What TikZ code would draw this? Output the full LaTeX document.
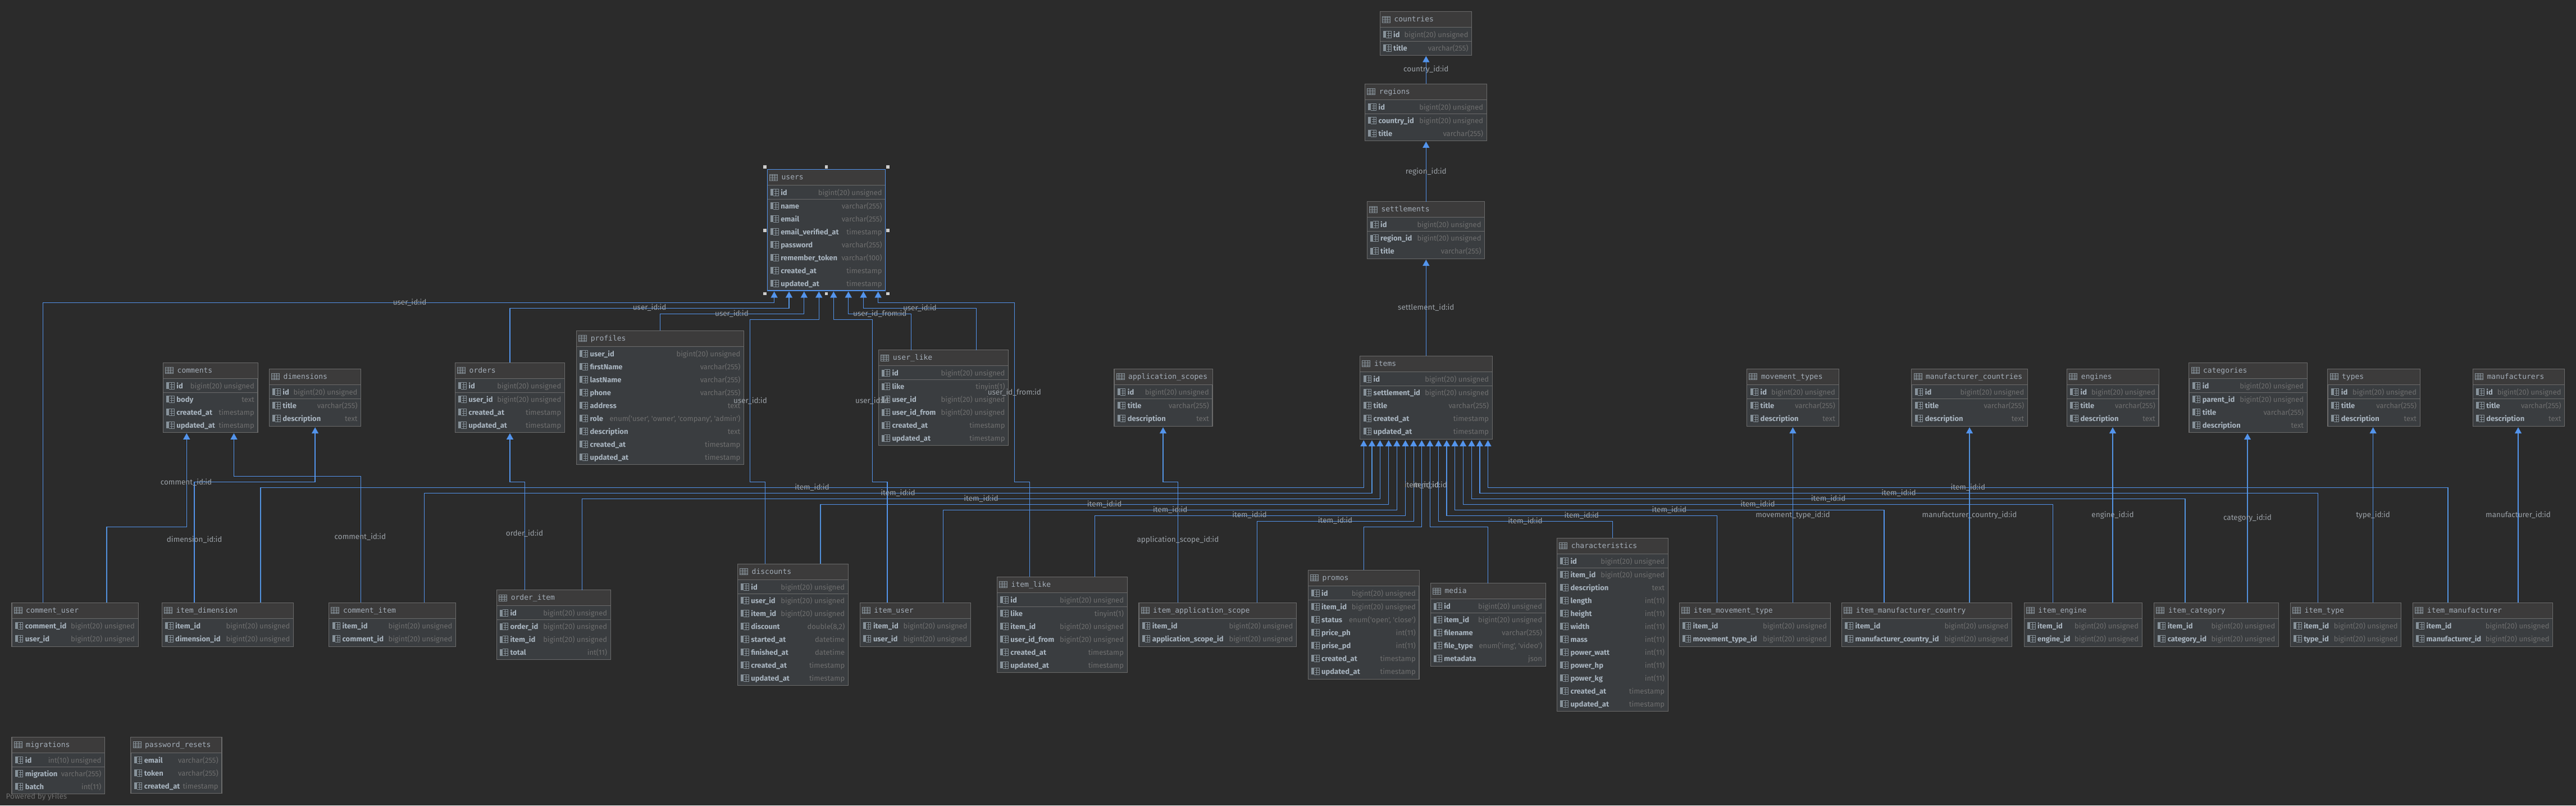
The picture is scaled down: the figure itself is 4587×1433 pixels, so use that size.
\documentclass[tikz,border=0pt]{standalone}
\usepackage{fontspec}
\usetikzlibrary{arrows.meta}
\newfontfamily\fieldfont{Fira Sans}
\newfontfamily\titlefont{DejaVu Sans Mono}
\definecolor{canvas}{HTML}{2B2B2B}
\definecolor{headfill}{HTML}{3C3B3B}
\definecolor{rowfill}{HTML}{3A3D40}
\definecolor{edge}{HTML}{6B6B6B}
\definecolor{titlecol}{HTML}{A4AEB9}
\definecolor{namecol}{HTML}{A9B5C0}
\definecolor{typecol}{HTML}{6F6F6F}
\definecolor{labelcol}{HTML}{9BA1A7}
\definecolor{iconcol}{HTML}{87929A}
\definecolor{linkcol}{HTML}{5394EC}
\tikzset{
  tablebox/.style={draw=edge, fill=rowfill, line width=1.2pt, anchor=north west, inner sep=0pt, outer sep=0pt},
  headband/.style={draw=edge, fill=headfill, line width=1pt},
  pkline/.style={draw=edge, line width=1.2pt},
  tabletitle/.style={anchor=west, inner sep=0pt, text height=10pt, text depth=2pt, text=titlecol, font=\titlefont\fontsize{13}{15}\selectfont},
  fieldname/.style={anchor=west, inner sep=0pt, text height=11pt, text depth=1pt, text=namecol, font=\fieldfont\bfseries\fontsize{13}{15}\selectfont},
  fieldtype/.style={anchor=east, inner sep=0pt, text height=11pt, text depth=1pt, text=typecol, font=\fieldfont\fontsize{13}{15}\selectfont},
  fklabel/.style={inner sep=0pt, text height=11pt, text depth=1.5pt, text=labelcol, font=\fieldfont\fontsize{13.5}{15}\selectfont},
  link/.style={draw=linkcol, line width=1.25pt, shorten >=1.5pt, -{Triangle[length=11pt,width=12pt,fill=linkcol]}},
  handle/.style={fill=white!80!black, minimum size=5.4pt, inner sep=0pt},
  iconline/.style={draw=iconcol, line width=0.8pt},
  tableicon/.pic={
    \draw[iconline] (0,-5.5) rectangle (14,5.5) (0,-2.75) -- (14,-2.75) (0,0) -- (14,0) (0,2.75) -- (14,2.75)
      (4.67,-5.5) -- (4.67,5.5) (9.33,-5.5) -- (9.33,5.5);
  },
  fieldicon/.pic={
    \fill[iconcol] (0,-6) rectangle (5,6);
    \draw[iconline] (5,-6) -- (14,-6) -- (14,6) -- (5,6) (7,-2) -- (14,-2) (7,2) -- (14,2) (9.5,-6) -- (9.5,6);
  }
}
\newcommand{\tbig}{bigint(20) unsigned}
\newcommand{\tvar}{varchar(255)}
\newcommand{\tstamp}{timestamp}
% name, left, top, right, bottom, has id row, fields
\newcommand{\dbtable}[7]{
  \pgfmathsetmacro{\boxw}{#4-#2}
  \pgfmathsetmacro{\boxh}{#5-#3}
  \node[tablebox, minimum width=\boxw pt, minimum height=\boxh pt] (#1) at (#2,#3) {};
  \draw[headband] (#2,#3) rectangle (#4,{#3+28});
  \pic at ({#2+4},{#3+14}) {tableicon};
  \node[tabletitle] (#1-title) at ({#2+25},{#3+14}) {\detokenize{#1}};
  \ifnum#6=1 \draw[pkline] (#2,{#3+53}) -- (#4,{#3+53}); \fi
  \foreach \fname/\ftype [count=\n] in {#7} {
    \pgfmathsetmacro{\rowy}{#3+41+23*(\n-1)+#6*(\n>1?1:0)}
    \pic at ({#2+5.7},\rowy) {fieldicon};
    \node[fieldname] (#1-\n-name) at ({#2+23.7},\rowy) {\fname};
    \node[fieldtype] (#1-\n-type) at ({#4-6},\rowy) {\ftype};
  }
}
\begin{document}
\begin{tikzpicture}[x=1pt, y=-1pt]
  \fill[canvas] (0,0) rectangle (4587,1433);

  % parent tables
  \dbtable{countries}{2457.3}{20.4}{2620.7}{98.2}{1}{id/\tbig, title/\tvar}
  \dbtable{regions}{2430.7}{149.3}{2647.3}{250.4}{1}{id/\tbig, country\_id/\tbig, title/\tvar}
  \dbtable{settlements}{2434.3}{358.6}{2643.7}{460.4}{1}{id/\tbig, region\_id/\tbig, title/\tvar}
  \dbtable{users}{1366.4}{301.4}{1576.8}{517.1}{1}{id/\tbig, name/\tvar, email/\tvar, email\_verified\_at/\tstamp, password/\tvar, remember\_token/varchar(100), created\_at/\tstamp, updated\_at/\tstamp}
  \dbtable{profiles}{1026.7}{588.3}{1324.6}{826.3}{0}{user\_id/\tbig, firstName/\tvar, lastName/\tvar, phone/\tvar, address/text, role/{enum('user', 'owner', 'company', 'admin')}, description/text, created\_at/\tstamp, updated\_at/\tstamp}
  \dbtable{user_like}{1564.6}{622.5}{1795.7}{792.1}{1}{id/\tbig, like/tinyint(1), user\_id/\tbig, user\_id\_from/\tbig, created\_at/\tstamp, updated\_at/\tstamp}
  \dbtable{comments}{290.5}{645.3}{459}{769.3}{1}{id/\tbig, body/text, created\_at/\tstamp, updated\_at/\tstamp}
  \dbtable{dimensions}{479.5}{656.3}{642.7}{758.7}{1}{id/\tbig, title/\tvar, description/text}
  \dbtable{orders}{810.5}{645.3}{1005.5}{769.3}{1}{id/\tbig, user\_id/\tbig, created\_at/\tstamp, updated\_at/\tstamp}
  \dbtable{application_scopes}{1984}{656.3}{2159}{758.7}{1}{id/\tbig, title/\tvar, description/text}
  \dbtable{items}{2421.8}{633.3}{2657.3}{781.7}{1}{id/\tbig, settlement\_id/\tbig, title/\tvar, created\_at/\tstamp, updated\_at/\tstamp}
  \dbtable{movement_types}{3110.8}{656.3}{3274.1}{758.7}{1}{id/\tbig, title/\tvar, description/text}
  \dbtable{manufacturer_countries}{3403.9}{656.3}{3610.5}{758.7}{1}{id/\tbig, title/\tvar, description/text}
  \dbtable{engines}{3680.7}{656.3}{3844}{758.7}{1}{id/\tbig, title/\tvar, description/text}
  \dbtable{categories}{3897.9}{645.3}{4108.3}{769.7}{1}{id/\tbig, parent\_id/\tbig, title/\tvar, description/text}
  \dbtable{types}{4144.9}{656.3}{4309.2}{758.7}{1}{id/\tbig, title/\tvar, description/text}
  \dbtable{manufacturers}{4403.4}{656.3}{4566.8}{758.7}{1}{id/\tbig, title/\tvar, description/text}

  % child tables
  \dbtable{comment_user}{21}{1072.3}{246.2}{1150.3}{0}{comment\_id/\tbig, user\_id/\tbig}
  \dbtable{item_dimension}{288.3}{1072.3}{522.6}{1150.3}{0}{item\_id/\tbig, dimension\_id/\tbig}
  \dbtable{comment_item}{585.8}{1072.3}{811.6}{1150.3}{0}{item\_id/\tbig, comment\_id/\tbig}
  \dbtable{order_item}{884.6}{1049.7}{1087.3}{1173.3}{1}{id/\tbig, order\_id/\tbig, item\_id/\tbig, total/int(11)}
  \dbtable{discounts}{1313.5}{1003.3}{1510.4}{1219.3}{1}{id/\tbig, user\_id/\tbig, item\_id/\tbig, discount/{double(8,2)}, started\_at/datetime, finished\_at/datetime, created\_at/\tstamp, updated\_at/\tstamp}
  \dbtable{item_user}{1531.1}{1072.3}{1728.7}{1150.3}{0}{item\_id/\tbig, user\_id/\tbig}
  \dbtable{item_like}{1775.5}{1026.3}{2007.2}{1196.3}{1}{id/\tbig, like/tinyint(1), item\_id/\tbig, user\_id\_from/\tbig, created\_at/\tstamp, updated\_at/\tstamp}
  \dbtable{item_application_scope}{2028}{1072.3}{2308.6}{1150.3}{0}{item\_id/\tbig, application\_scope\_id/\tbig}
  \dbtable{promos}{2329.3}{1014.3}{2527}{1208.3}{1}{id/\tbig, item\_id/\tbig, status/{enum('open', 'close')}, price\_ph/int(11), prise\_pd/int(11), created\_at/\tstamp, updated\_at/\tstamp}
  \dbtable{media}{2547.4}{1037.7}{2752.2}{1185.3}{1}{id/\tbig, item\_id/\tbig, filename/\tvar, file\_type/{enum('img', 'video')}, metadata/json}
  \dbtable{characteristics}{2772.6}{957.3}{2970.3}{1265.3}{1}{id/\tbig, item\_id/\tbig, description/text, length/int(11), height/int(11), width/int(11), mass/int(11), power\_watt/int(11), power\_hp/int(11), power\_kg/int(11), created\_at/\tstamp, updated\_at/\tstamp}
  \dbtable{item_movement_type}{2990.7}{1072.3}{3259.2}{1150.3}{0}{item\_id/\tbig, movement\_type\_id/\tbig}
  \dbtable{item_manufacturer_country}{3279.6}{1072.3}{3582.5}{1150.3}{0}{item\_id/\tbig, manufacturer\_country\_id/\tbig}
  \dbtable{item_engine}{3604.2}{1072.3}{3814.2}{1150.3}{0}{item\_id/\tbig, engine\_id/\tbig}
  \dbtable{item_category}{3835.8}{1072.3}{4057.5}{1150.3}{0}{item\_id/\tbig, category\_id/\tbig}
  \dbtable{item_type}{4078.3}{1072.3}{4275.8}{1150.3}{0}{item\_id/\tbig, type\_id/\tbig}
  \dbtable{item_manufacturer}{4296.7}{1072.3}{4545.8}{1150.3}{0}{item\_id/\tbig, manufacturer\_id/\tbig}
  \dbtable{migrations}{21}{1311.3}{186.6}{1412.3}{1}{id/int(10) unsigned, migration/\tvar, batch/int(11)}
  \dbtable{password_resets}{232.9}{1311.3}{394.9}{1411.3}{0}{email/\tvar, token/\tvar, created\_at/\tstamp}

  % the selected table
  \draw[draw=linkcol, line width=1.25pt] (users.north west) rectangle (users.south east);
  \node[handle] (handle1) at (1361.8,297.1) {};
  \node[handle] (handle2) at (1471.4,297.1) {};
  \node[handle] (handle3) at (1581,297.1) {};
  \node[handle] (handle4) at (1361.8,410) {};
  \node[handle] (handle5) at (1581,410) {};
  \node[handle] (handle6) at (1361.8,522.5) {};
  \node[handle] (handle7) at (1471.4,522.5) {};
  \node[handle] (handle8) at (1581,522.5) {};

  % links up the location chain
  \draw[link] (2539.3,0 |- regions.north) -- (2539.3,0 |- countries.south);
  \draw[link] (2539.3,0 |- settlements.north) -- (2539.3,0 |- regions.south);
  \draw[link] (2539.3,0 |- items.north) -- (2539.3,0 |- settlements.south);

  % links to users
  \draw[link] (76.5,0 |- comment_user.north) |- (1378.6,538.2) -- (1378.6,0 |- users.south);
  \draw[link] (908,0 |- orders.north) |- (1405,548.2) -- (1405,0 |- users.south);
  \draw[link] (1175.3,0 |- profiles.north) |- (1431.8,558.2) -- (1431.8,0 |- users.south);
  \draw[link] (1362.4,0 |- discounts.north) |- (1335.6,857.3) |- (1458.2,568.2) -- (1458.2,0 |- users.south);
  \draw[link] (1580,0 |- item_user.north) |- (1553.2,857.3) |- (1484.3,568.2) -- (1484.3,0 |- users.south);
  \draw[link] (1622.5,0 |- user_like.north) |- (1510.7,558.2) -- (1510.7,0 |- users.south);
  \draw[link] (1738.2,0 |- user_like.north) |- (1537.5,548.2) -- (1537.5,0 |- users.south);
  \draw[link] (1833.4,0 |- item_like.north) |- (1806.2,857.3) |- (1563.6,538.2) -- (1563.6,0 |- users.south);

  % links to the lookup tables
  \draw[link] (190,0 |- comment_user.north) |- (332.3,937.3) -- (332.3,0 |- comments.south);
  \draw[link] (642.3,0 |- comment_item.north) |- (416.5,847.3) -- (416.5,0 |- comments.south);
  \draw[link] (346,0 |- item_dimension.north) |- (561.1,857.3) -- (561.1,0 |- dimensions.south);
  \draw[link] (934.4,0 |- order_item.north) |- (908,857.3) -- (908,0 |- orders.south);
  \draw[link] (2097.4,0 |- item_application_scope.north) |- (2071,857.3) -- (2071,0 |- application_scopes.south);
  \draw[link] (3192.4,0 |- item_movement_type.north) -- (3192.4,0 |- movement_types.south);
  \draw[link] (3507,0 |- item_manufacturer_country.north) -- (3507,0 |- manufacturer_countries.south);
  \draw[link] (3762,0 |- item_engine.north) -- (3762,0 |- engines.south);
  \draw[link] (4002,0 |- item_category.north) -- (4002,0 |- categories.south);
  \draw[link] (4225.6,0 |- item_type.north) -- (4225.6,0 |- types.south);
  \draw[link] (4484,0 |- item_manufacturer.north) -- (4484,0 |- manufacturers.south);

  % links to items
  \draw[link] (464,0 |- item_dimension.north) |- (2428.3,867.3) -- (2428.3,0 |- items.south);
  \draw[link] (755.8,0 |- comment_item.north) |- (2442.9,877.3) -- (2442.9,0 |- items.south);
  \draw[link] (1036.4,0 |- order_item.north) |- (2457.4,887.3) -- (2457.4,0 |- items.south);
  \draw[link] (1461,0 |- discounts.north) |- (2472.7,897.3) -- (2472.7,0 |- items.south);
  \draw[link] (1679.7,0 |- item_user.north) |- (2487.2,907.3) -- (2487.2,0 |- items.south);
  \draw[link] (1949.7,0 |- item_like.north) |- (2502.5,917.3) -- (2502.5,0 |- items.south);
  \draw[link] (2238.6,0 |- item_application_scope.north) |- (2517.1,927.3) -- (2517.1,0 |- items.south);
  \draw[link] (2428.4,0 |- promos.north) |- (2531.6,937.3) -- (2531.6,0 |- items.south);
  \draw[link] (2649.5,0 |- media.north) |- (2546.2,937.3) -- (2546.2,0 |- items.south);
  \draw[link] (2871.4,0 |- characteristics.north) |- (2561.5,927.3) -- (2561.5,0 |- items.south);
  \draw[link] (3057.5,0 |- item_movement_type.north) |- (2576,917.3) -- (2576,0 |- items.south);
  \draw[link] (3355,0 |- item_manufacturer_country.north) |- (2590.6,907.3) -- (2590.6,0 |- items.south);
  \draw[link] (3655.8,0 |- item_engine.north) |- (2605.1,897.3) -- (2605.1,0 |- items.south);
  \draw[link] (3891,0 |- item_category.north) |- (2620.4,887.3) -- (2620.4,0 |- items.south);
  \draw[link] (4127.2,0 |- item_type.north) |- (2634.9,877.3) -- (2634.9,0 |- items.south);
  \draw[link] (4359,0 |- item_manufacturer.north) |- (2649.5,867.3) -- (2649.5,0 |- items.south);

  % link labels
  \node[fklabel] (lbl_country) at (2539.3,123.2) {country\_id:id};
  \node[fklabel] (lbl_region) at (2539.3,304.3) {region\_id:id};
  \node[fklabel] (lbl_settlement) at (2539.3,546.4) {settlement\_id:id};
  \node[fklabel] (lbl_user1) at (729.6,537.3) {user\_id:id};
  \node[fklabel] (lbl_user2) at (1156.7,547) {user\_id:id};
  \node[fklabel] (lbl_user3) at (1303,558) {user\_id:id};
  \node[fklabel] (lbl_user4) at (1336,712.9) {user\_id:id};
  \node[fklabel] (lbl_user5) at (1553,712.9) {user\_id:id};
  \node[fklabel] (lbl_user6) at (1637.9,547.9) {user\_id:id};
  \node[fklabel] (lbl_from1) at (1566.8,557.9) {user\_id\_from:id};
  \node[fklabel] (lbl_from2) at (1806.4,697.9) {user\_id\_from:id};
  \node[fklabel] (lbl_comment1) at (331.6,858) {comment\_id:id};
  \node[fklabel] (lbl_comment2) at (641.4,954.7) {comment\_id:id};
  \node[fklabel] (lbl_dimension) at (346.2,959.7) {dimension\_id:id};
  \node[fklabel] (lbl_order) at (934,948.7) {order\_id:id};
  \node[fklabel] (lbl_scope) at (2097.4,960) {application\_scope\_id:id};
  \node[fklabel] (lbl_movement) at (3192.4,916) {movement\_type\_id:id};
  \node[fklabel] (lbl_mcountry) at (3507,916) {manufacturer\_country\_id:id};
  \node[fklabel] (lbl_engine) at (3762,916) {engine\_id:id};
  \node[fklabel] (lbl_category) at (4002,921) {category\_id:id};
  \node[fklabel] (lbl_type) at (4225.6,916) {type\_id:id};
  \node[fklabel] (lbl_manufacturer) at (4484,916) {manufacturer\_id:id};
  \node[fklabel] (lbl_item1) at (1446,866.7) {item\_id:id};
  \node[fklabel] (lbl_item2) at (1599,877) {item\_id:id};
  \node[fklabel] (lbl_item3) at (1747,887) {item\_id:id};
  \node[fklabel] (lbl_item4) at (1966.6,896.7) {item\_id:id};
  \node[fklabel] (lbl_item5) at (2083.7,907) {item\_id:id};
  \node[fklabel] (lbl_item6) at (2225,916) {item\_id:id};
  \node[fklabel] (lbl_item7) at (2377.5,926) {item\_id:id};
  \node[fklabel] (lbl_item8) at (2531.6,863) {item\_id:id};
  \node[fklabel] (lbl_item9) at (2546.2,863) {item\_id:id};
  \node[fklabel] (lbl_item10) at (2716,926.7) {item\_id:id};
  \node[fklabel] (lbl_item11) at (2816.3,916.7) {item\_id:id};
  \node[fklabel] (lbl_item12) at (2972.4,906.7) {item\_id:id};
  \node[fklabel] (lbl_item13) at (3130,896.7) {item\_id:id};
  \node[fklabel] (lbl_item14) at (3255.6,886.7) {item\_id:id};
  \node[fklabel] (lbl_item15) at (3381,876.7) {item\_id:id};
  \node[fklabel] (lbl_item16) at (3504.3,866.7) {item\_id:id};

  \node[fklabel, anchor=west, text=typecol] (poweredby) at (10.5,1416.7) {Powered by yFiles};
\end{tikzpicture}
\end{document}
